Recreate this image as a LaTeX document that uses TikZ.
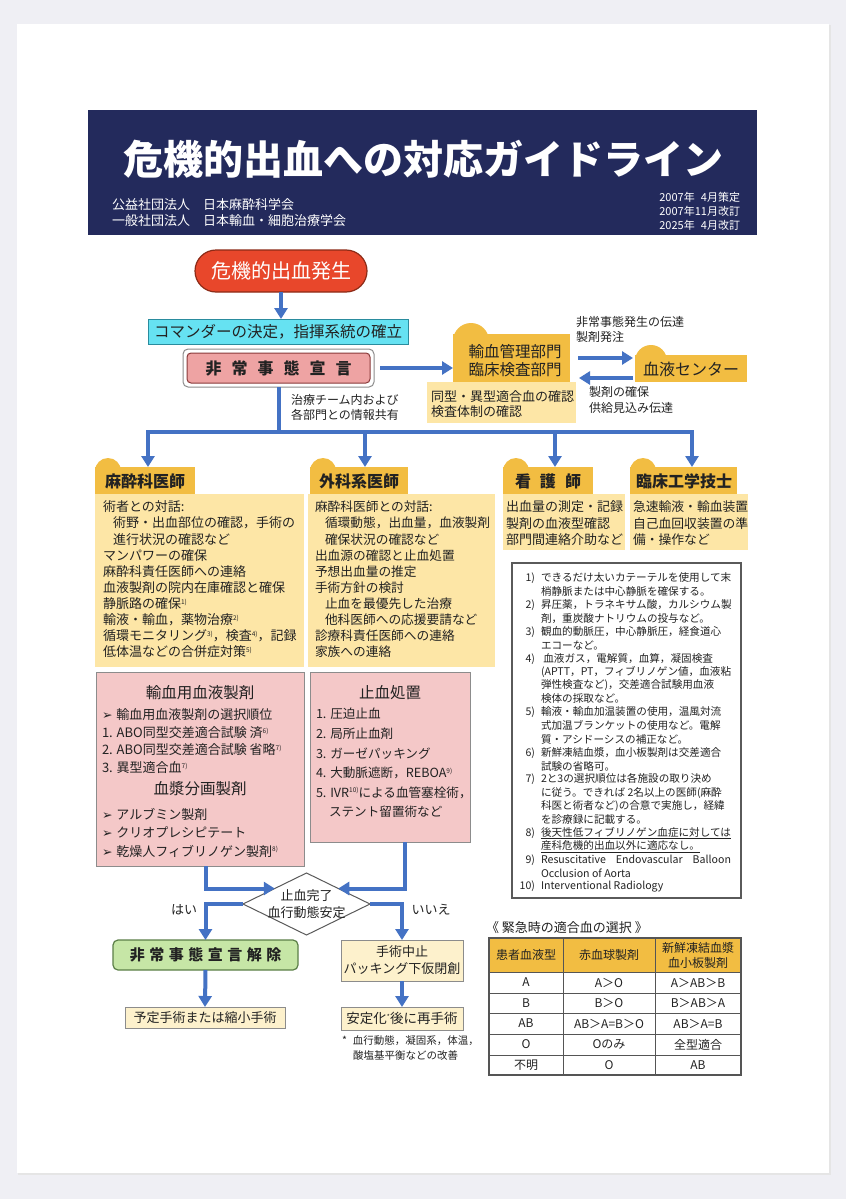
\documentclass[tikz,border=0pt]{standalone}
\usepackage{fontspec}
\setmainfont{Noto Sans CJK JP}
\newfontfamily\dv{DejaVu Sans}
\usetikzlibrary{arrows.meta,shapes.geometric,calc}
\definecolor{bgc}{HTML}{EFEFF4}
\definecolor{navy}{HTML}{232A5C}
\definecolor{ablue}{HTML}{4472C4}
\definecolor{gold}{HTML}{F2BD42}
\definecolor{lyel}{HTML}{FDE6A6}
\definecolor{pyel}{HTML}{FDF1CC}
\definecolor{pinkc}{HTML}{F4C8C8}
\definecolor{rpink}{HTML}{EEA3A3}
\definecolor{pillc}{HTML}{E8472B}
\definecolor{pillb}{HTML}{8C2B17}
\definecolor{cyanb}{HTML}{66E2F2}
\definecolor{cyanbd}{HTML}{2A8C9E}
\definecolor{sgred}{HTML}{8A3A3A}
\definecolor{lgreen}{HTML}{C6E6A6}
\definecolor{dgreen}{HTML}{5B7F47}
\definecolor{bgray}{HTML}{8C8C8C}
\definecolor{ngray}{HTML}{5A5A5A}
\definecolor{tgray}{HTML}{555555}
\definecolor{txt}{HTML}{222222}
\newcommand\smk[1]{\raisebox{0.6ex}{\fontsize{6.5}{6.5}\selectfont #1}}
\newcommand\fs[2]{\fontsize{#1}{#2}\selectfont}
\newcommand\arw{{\dv\fontsize{12.5}{12.5}\selectfont ➢}\hspace{4pt}}
\newcommand\numb[1]{\makebox[17pt][r]{#1}\hspace*{6pt}}
\newcommand\cind{\hspace*{23pt}}
\newcommand\bx[6]{\node[#1,anchor=north west,minimum width={#4-#2},minimum height={#5-#3}] (#6) at (#2,#3) {};}
\newcommand\tlines[6][]{\foreach \tx [count=\ti from 0] in {#6} {\node[anchor=west,#1] (#2\ti) at (#3,{#4+\ti*#5}) {\tx};}}
\begin{document}
\begin{tikzpicture}[x=1pt,y=-1pt,
  every node/.style={inner sep=0pt,outer sep=0pt,text=txt},
  arr/.style={draw=ablue,line width=4pt,-{Triangle[width=13pt,length=11pt]}},
  ln/.style={draw=ablue,line width=4pt},
  pbox/.style={fill=pinkc,draw=bgray,line width=0.9pt},
  sbox/.style={fill=pyel,draw=bgray,line width=0.9pt},
  hd/.style={font=\fs{16}{19}\bfseries},
  cell/.style={draw=tgray,line width=0.8pt,anchor=north west,font=\fs{12}{15},align=center},
]
\useasboundingbox (0,0) rectangle (846,1199);
\fill[bgc] (0,0) rectangle (846,1199);
\fill[black!10] (18,25.5) rectangle (830.5,1175);
\fill[white] (17,24) rectangle (829,1173);

% header
\bx{fill=navy}{88}{110}{757}{235}{hdr}
\node[text=white,font=\fs{40}{44}\bfseries] (title) at (423,159) {危機的出血への対応ガイドライン};
\node[text=white,anchor=west,font=\fs{13}{16}] (org1) at (112,205) {公益社団法人　日本麻酔科学会};
\node[text=white,anchor=west,font=\fs{13}{16}] (org2) at (112,221) {一般社団法人　日本輸血・細胞治療学会};
\node[text=white,anchor=east,font=\fs{11}{13}] (d1) at (740,197) {2007年\phantom{1}4月策定};
\node[text=white,anchor=east,font=\fs{11}{13}] (d2) at (740,211) {2007年11月改訂};
\node[text=white,anchor=east,font=\fs{11}{13}] (d3) at (740,225) {2025年\phantom{1}4月改訂};

% top flow
\node[draw=pillb,fill=pillc,line width=1.2pt,rounded corners=21pt,minimum width=172,minimum height=42,anchor=north west,text=white,font=\fs{20}{24}] (start) at (195,250) {危機的出血発生};
\node[draw=cyanbd,fill=cyanb,line width=1pt,minimum width=260,minimum height=25,anchor=north west,font=\fs{15.5}{18}] (cmd) at (148,319) {コマンダーの決定，指揮系統の確立};
\draw[arr] (start.south) -- (start.south |- cmd.north);
\node[draw=bgray,fill=white,line width=1pt,rounded corners=5pt,minimum width=191,minimum height=38,anchor=north west] (sgo) at (183,349) {};
\node[draw=sgred,fill=rpink,line width=1pt,rounded corners=4pt,minimum width=183,minimum height=30,font=\fs{16}{19}\bfseries] (sg) at (sgo.center) {非\hspace{10pt}常\hspace{10pt}事\hspace{10pt}態\hspace{10pt}宣\hspace{10pt}言};

\fill[gold] (471,341) circle (18);
\bx{fill=gold}{453}{334}{570}{382}{tk}
\node[align=center,font=\fs{15.5}{18}] (tkt) at (515,361) {輸血管理部門\\臨床検査部門};
\bx{fill=lyel}{427}{382}{576}{423}{dojo}
\node[anchor=west,font=\fs{13}{15}] (dj1) at (431,397) {同型・異型適合血の確認};
\node[anchor=west,font=\fs{13}{15}] (dj2) at (431,412) {検査体制の確認};
\draw[arr] ($(sgo.east)+(6,0)$) -- (sgo.east -| tk.west);

\fill[gold] (651,361) circle (16);
\bx{fill=gold}{635}{355}{747}{382}{bc}
\node[font=\fs{16}{19}] (bct) at (691,369) {血液センター};
\draw[arr] ($(tk.east)+(8,0)$) -- ($(tk.east -| bc.west)+(-2,0)$);
\draw[arr] ($(bc.west)+(-2,9.5)$) -- ($(bc.west -| tk.east)+(9,9.5)$);
\node[anchor=west,font=\fs{12}{14}] (lb1) at (576,322) {非常事態発生の伝達};
\node[anchor=west,font=\fs{12}{14}] (lb2) at (576,337) {製剤発注};
\node[anchor=west,font=\fs{12}{14}] (lb3) at (589,392) {製剤の確保};
\node[anchor=west,font=\fs{12}{14}] (lb4) at (589,408) {供給見込み伝達};

% bus
\coordinate (busL) at (148,432);
\coordinate (busB) at (365,432);
\coordinate (busC) at (555,432);
\coordinate (busR) at (692,432);
\draw[ln] (sgo.south) -- (sgo.south |- busL);
\draw[ln,line cap=rect] (busL) -- (busR);
\node[anchor=west,font=\fs{12}{14}] (sh1) at (291,400) {治療チーム内および};
\node[anchor=west,font=\fs{12}{14}] (sh2) at (291,415) {各部門との情報共有};

% column headers
\fill[gold] (108,471) circle (13);
\bx{fill=gold}{95}{467}{195}{494}{hA}
\node[hd] (hAt) at (145,481) {麻酔科医師};
\fill[gold] (323,471) circle (13);
\bx{fill=gold}{310}{467}{408}{494}{hB}
\node[hd] (hBt) at (359,481) {外科系医師};
\fill[gold] (516,471) circle (13);
\bx{fill=gold}{503}{467}{593}{494}{hC}
\node[hd] (hCt) at (548,481) {看\hspace{9pt}護\hspace{9pt}師};
\fill[gold] (643,471) circle (13);
\bx{fill=gold}{630}{467}{737}{494}{hD}
\node[hd] (hDt) at (684,481) {臨床工学技士};
\draw[arr] (busL) -- (busL |- hA.north);
\draw[arr] (busB) -- (busB |- hB.north);
\draw[arr] (busC) -- (busC |- hC.north);
\draw[arr] (busR) -- (busR |- hD.north);

% content boxes
\bx{fill=lyel}{95}{494}{304}{667}{cA}
\bx{fill=lyel}{308}{494}{495}{667}{cB}
\bx{fill=lyel}{503}{494}{625}{550}{cC}
\bx{fill=lyel}{630}{494}{748}{550}{cD}
\tlines[font=\fs{13}{16}]{cAt}{103}{507}{16.1}{{術者との対話:},{\hspace*{10pt}術野・出血部位の確認，手術の},{\hspace*{10pt}進行状況の確認など},{マンパワーの確保},{麻酔科責任医師への連絡},{血液製剤の院内在庫確認と確保},{静脈路の確保\smk{1)}},{輸液・輸血，薬物治療\smk{2)}},{循環モニタリング\smk{3)}，検査\smk{4)}，記録},{低体温などの合併症対策\smk{5)}}}
\tlines[font=\fs{12.7}{16}]{cBt}{315}{507}{16.1}{{麻酔科医師との対話:},{\hspace*{10pt}循環動態，出血量，血液製剤},{\hspace*{10pt}確保状況の確認など},{出血源の確認と止血処置},{予想出血量の推定},{手術方針の検討},{\hspace*{10pt}止血を最優先した治療},{\hspace*{10pt}他科医師への応援要請など},{診療科責任医師への連絡},{家族への連絡}}
\tlines[font=\fs{13}{16}]{cCt}{506}{507}{16.5}{{出血量の測定・記録},{製剤の血液型確認},{部門間連絡介助など}}
\tlines[font=\fs{12.8}{16}]{cDt}{633}{507}{16.5}{{急速輸液・輸血装置},{自己血回収装置の準},{備・操作など}}

% pink boxes
\bx{pbox}{96}{672}{304}{866}{pA}
\node[font=\fs{15.5}{18}] (pAh1) at (200,693) {輸血用血液製剤};
\tlines[font=\fs{13}{16}]{pAa}{102}{715}{17.5}{{\arw 輸血用血液製剤の選択順位},{1. ABO同型交差適合試験 済\smk{6)}},{2. ABO同型交差適合試験 省略\smk{7)}},{3. 異型適合血\smk{7)}}}
\node[font=\fs{15.5}{18}] (pAh2) at (200,789) {血漿分画製剤};
\tlines[font=\fs{13}{16}]{pAb}{102}{814}{18.5}{{\arw アルブミン製剤},{\arw クリオプレシピテート},{\arw 乾燥人フィブリノゲン製剤\smk{8)}}}

\bx{pbox}{310}{672}{470}{842}{pB}
\node[font=\fs{15.5}{18}] (pBh) at (390,693) {止血処置};
\tlines[font=\fs{12.6}{16}]{pBa}{316}{714}{19.6}{{1. 圧迫止血},{2. 局所止血剤},{3. ガーゼパッキング},{4. 大動脈遮断，REBOA\smk{9)}},{5. IVR\smk{10)}による血管塞栓術，},{\hspace*{13pt}ステント留置術など}}

% notes
\bx{draw=ngray,line width=1.6pt,fill=white}{512}{563}{741}{898}{notes}
\tlines[font=\fs{10.6}{13}]{nt}{518}{578}{13.43}{{\numb{1)}できるだけ太いカテーテルを使用して末},{\cind 梢静脈または中心静脈を確保する。},{\numb{2)}昇圧薬，トラネキサム酸，カルシウム製},{\cind 剤，重炭酸ナトリウムの投与など。},{\numb{3)}観血的動脈圧，中心静脈圧，経食道心},{\cind エコーなど。},{\numb{4)} 血液ガス，電解質，血算，凝固検査},{\cind (APTT，PT，フィブリノゲン値，血液粘},{\cind 弾性検査など)，交差適合試験用血液},{\cind 検体の採取など。},{\numb{5)}輸液・輸血加温装置の使用，温風対流},{\cind 式加温ブランケットの使用など。電解},{\cind 質・アシドーシスの補正など。},{\numb{6)}新鮮凍結血漿，血小板製剤は交差適合},{\cind 試験の省略可。},{\numb{7)}2と3の選択順位は各施設の取り決め},{\cind に従う。できれば 2名以上の医師(麻酔},{\cind 科医と術者など)の合意で実施し，経緯},{\cind を診療録に記載する。},{\numb{8)}\underline{後天性低フィブリノゲン血症に対しては}},{\cind\underline{産科危機的出血以外に適応なし。}},{\numb{9)}\makebox[190pt][s]{Resuscitative\hfill Endovascular\hfill Balloon}},{\cind Occlusion of Aorta},{\numb{10)}Interventional Radiology}}

% decision
\node[draw=ngray,fill=white,line width=1pt,shape=diamond,minimum width=127,minimum height=62] (dm) at (306.5,904) {};
\node[font=\fs{13}{17},align=center] (dmt) at (306.5,904) {止血完了\\血行動態安定};
\draw[arr] ($(pA.south)+(6,0)$) |- (dm.north west);
\draw[arr] ($(pB.south)+(15,0)$) |- (dm.north east);
\node[draw=dgreen,fill=lgreen,line width=1.2pt,rounded corners=5pt,minimum width=185,minimum height=30,anchor=north west,font=\fs{15}{18}\bfseries] (kai) at (113,940) {非\hspace{4.5pt}常\hspace{4.5pt}事\hspace{4.5pt}態\hspace{4.5pt}宣\hspace{4.5pt}言\hspace{4.5pt}解\hspace{4.5pt}除};
\node[sbox,minimum width=122,minimum height=41,anchor=north west,align=center,font=\fs{13}{17}] (chu) at (341,940) {手術中止\\パッキング下仮閉創};
\draw[arr] (dm.west) -| (kai.north);
\draw[arr] (dm.east) -| (chu.north);
\node[font=\fs{13}{15}] (yes) at (184,910) {はい};
\node[font=\fs{13}{15}] (no) at (431,910) {いいえ};
\node[sbox,minimum width=160,minimum height=21,anchor=north west,font=\fs{13}{15}] (yotei) at (125,1007) {予定手術または縮小手術};
\node[sbox,minimum width=122,minimum height=23,anchor=north west,font=\fs{13.5}{15}] (antei) at (341,1007) {安定化\smk{*}後に再手術};
\draw[arr] (kai.south) -- (yotei.north);
\draw[arr] (chu.south) -- (antei.north);
\node[anchor=west,font=\fs{10.5}{13}] (ast1) at (342,1041) {*\hspace{6pt}血行動態，凝固系，体温，};
\node[anchor=west,font=\fs{10.5}{13}] (ast2) at (353,1056) {酸塩基平衡などの改善};

% table
\node[anchor=west,font=\fs{13}{15}] (tbt) at (486,928) {《 緊急時の適合血の選択 》};
\node[cell,fill=gold,minimum width=74,minimum height=34] (th1) at (489,938) {患者血液型};
\node[cell,fill=gold,minimum width=92,minimum height=34] (th2) at (563,938) {赤血球製剤};
\node[cell,fill=gold,minimum width=86,minimum height=34] (th3) at (655,938) {新鮮凍結血漿\\血小板製剤};
\foreach \yy/\hh/\ca/\cb/\cc [count=\r] in {972/21/A/A＞O/A＞AB＞B,993/20/B/B＞O/B＞AB＞A,1013/21/AB/AB＞A=B＞O/AB＞A=B,1034/21/O/Oのみ/全型適合,1055/20/不明/O/AB}{
  \node[cell,minimum width=74,minimum height=\hh] (tr\r a) at (489,\yy) {\ca};
  \node[cell,minimum width=92,minimum height=\hh] (tr\r b) at (563,\yy) {\cb};
  \node[cell,minimum width=86,minimum height=\hh] (tr\r c) at (655,\yy) {\cc};
}
\draw[tgray,line width=1.2pt] (th1.north west) rectangle (tr5c.south east);
\end{tikzpicture}
\end{document}
